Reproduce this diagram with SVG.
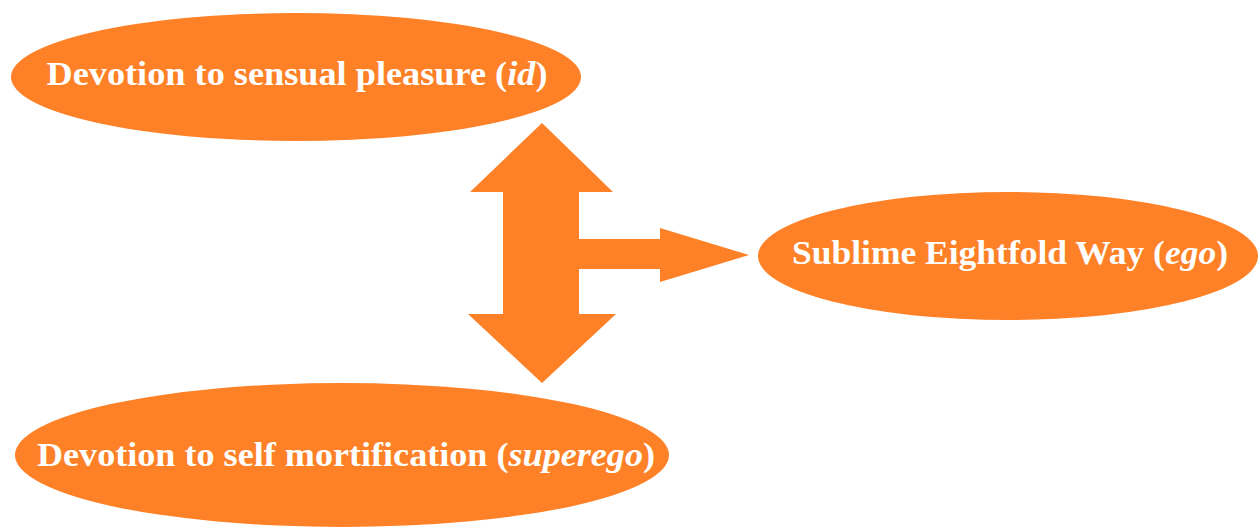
<svg xmlns="http://www.w3.org/2000/svg" width="1259" height="527" viewBox="0 0 1259 527">
  <style>
    .node { fill: #FE8127; }
    .label { fill: #FFFFFF; font-family: "Liberation Serif", "DejaVu Serif", serif; font-weight: bold; font-size: 33px; text-anchor: middle; }
    .it { font-style: italic; }
    .conn { fill: #FE8127; }
  </style>
  <rect width="1259" height="527" fill="#FFFFFF"/>

  <g id="node-id">
    <ellipse class="node" cx="296" cy="77" rx="285" ry="64"/>
    <text class="label" x="297" y="85" textLength="501" lengthAdjust="spacingAndGlyphs">Devotion to sensual pleasure (<tspan class="it">id</tspan>)</text>
  </g>

  <g id="node-ego">
    <ellipse class="node" cx="1008" cy="256" rx="250" ry="64"/>
    <text class="label" x="1010" y="264" textLength="436" lengthAdjust="spacingAndGlyphs">Sublime Eightfold Way (<tspan class="it">ego</tspan>)</text>
  </g>

  <g id="node-superego">
    <ellipse class="node" cx="342" cy="455" rx="327" ry="72"/>
    <text class="label" x="346" y="466" textLength="618" lengthAdjust="spacingAndGlyphs">Devotion to self mortification (<tspan class="it">superego</tspan>)</text>
  </g>

  <g id="connectors">
    <!-- double-headed vertical arrow between id and superego, with a branch to ego -->
    <polygon class="conn" points="542,123 613,192 579,192 579,239 660,239 660,228 749,255 660,282 660,269 579,269 579,314 616,314 542,383 468,314 503,314 503,192 470,192"/>
  </g>
</svg>
